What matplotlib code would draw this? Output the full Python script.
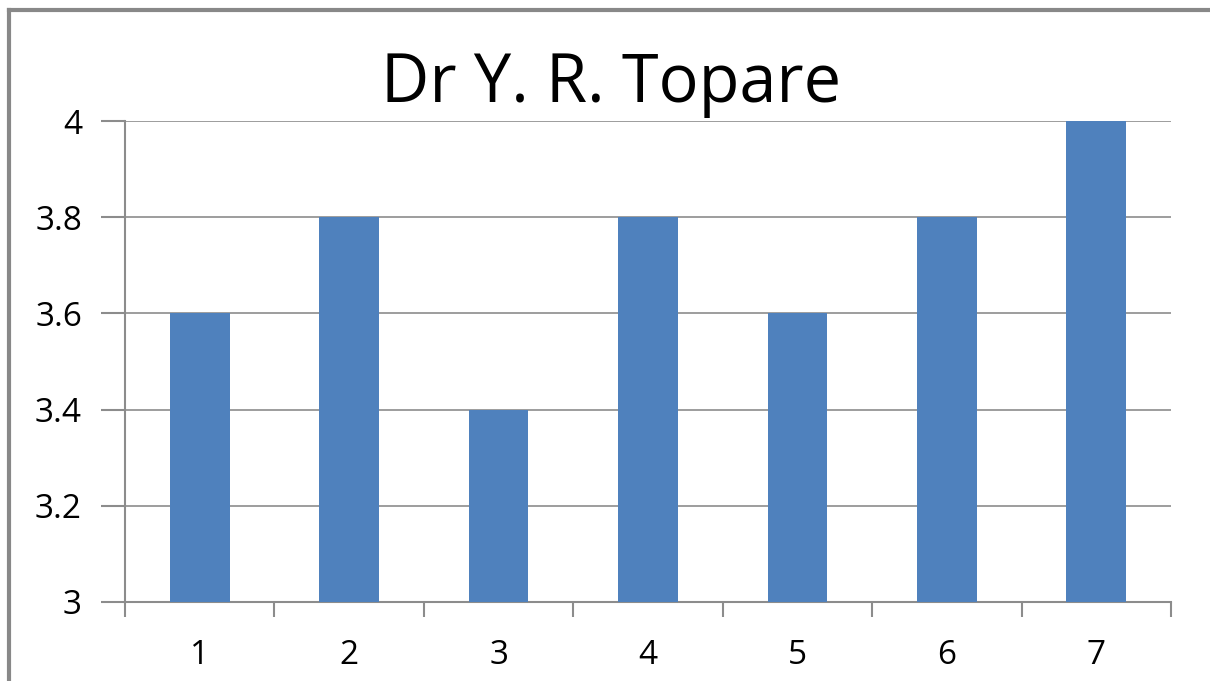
import matplotlib.pyplot as plt
from matplotlib.lines import Line2D

categories = ['1', '2', '3', '4', '5', '6', '7']
values = [3.6, 3.8, 3.4, 3.8, 3.6, 3.8, 4.0]
y_ticks = [3, 3.2, 3.4, 3.6, 3.8, 4]
y_labels = ['3', '3.2', '3.4', '3.6', '3.8', '4']

plt.rcParams['font.family'] = ['Open Sans', 'DejaVu Sans']
grey = '#8c8c8c'

fig = plt.figure(figsize=(12.1, 6.81), dpi=100)
ax = fig.add_axes([125/1210, 1-602/681, (1171-125)/1210, (602-121)/681])

x = list(range(len(categories)))
ax.bar(x, [v - 3 for v in values], bottom=3, width=0.4, color='#4f81bd', zorder=3)

ax.set_xlim(-0.5, len(categories) - 0.5)
ax.set_ylim(3, 4)
ax.set_yticks(y_ticks)
ax.set_yticklabels(y_labels)
ax.set_xticks(x)
ax.set_xticklabels(categories)
ax.set_xticks([i - 0.5 for i in range(len(categories) + 1)], minor=True)
ax.tick_params(axis='x', which='major', length=0, pad=27, labelsize=24)
ax.tick_params(axis='x', which='minor', length=11, color=grey, width=1.5)
ax.tick_params(axis='y', length=17, color=grey, width=1.5, pad=14, labelsize=24)
ax.grid(axis='y', color=grey, linewidth=1.2, zorder=0)
for s in ['top', 'right']:
    ax.spines[s].set_visible(False)
for s in ['left', 'bottom']:
    ax.spines[s].set_color(grey)
    ax.spines[s].set_linewidth(1.5)

fig.text(611/1210, 1-84/681, 'Dr Y. R. Topare', ha='center', va='center', fontsize=48)

# outer chart frame (left and top edges)
fig.add_artist(Line2D([9/1210, 9/1210], [0, 1-10/681], color='#888888', linewidth=3))
fig.add_artist(Line2D([9/1210, 1], [1-10/681, 1-10/681], color='#888888', linewidth=3))

fig.savefig('out.png', dpi=100)
